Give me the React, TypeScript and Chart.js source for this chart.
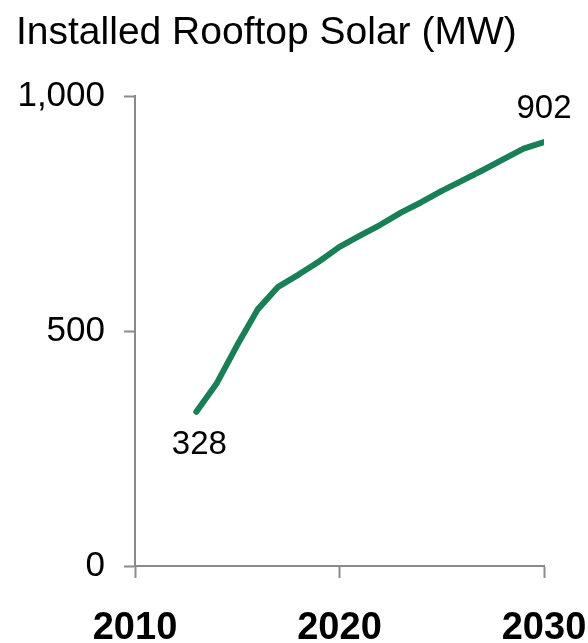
import React, { useEffect, useRef } from 'react';
import { Chart, registerables } from 'chart.js';

Chart.register(...registerables);

const chartTitle = 'Installed Rooftop Solar (MW)';
const years = [2013, 2014, 2015, 2016, 2017, 2018, 2019, 2020, 2021, 2022, 2023, 2024, 2025, 2026, 2027, 2028, 2029, 2030];
const installedMW = [328, 389, 470, 546, 594, 620, 648, 679, 703, 726, 752, 774, 798, 820, 842, 865, 888, 902];
const xTickValues = [2010, 2020, 2030];
const yTickValues = [0, 500, 1000];

const FONT = '"Liberation Sans", Arial, Helvetica, sans-serif';
const LINE_COLOR = '#187f57';
const AXIS_COLOR = '#8a8a8a';

export default function App() {
  const canvasRef = useRef<HTMLCanvasElement | null>(null);

  useEffect(() => {
    document.body.style.margin = '0';
    const canvas = canvasRef.current;
    if (!canvas) return;

    const overlay = {
      id: 'overlay',
      afterDraw(chart: any) {
        const ctx = chart.ctx;
        ctx.save();
        ctx.fillStyle = '#000';
        ctx.font = `39px ${FONT}`;
        ctx.textAlign = 'left';
        ctx.textBaseline = 'alphabetic';
        ctx.fillText(chartTitle, 16, 44);

        const xs = chart.scales.x;
        const ys = chart.scales.y;
        ctx.font = `33px ${FONT}`;
        ctx.textAlign = 'center';
        ctx.textBaseline = 'middle';
        const first = 0;
        const last = installedMW.length - 1;
        ctx.fillText(String(installedMW[first]), xs.getPixelForValue(years[first]) + 3, ys.getPixelForValue(installedMW[first]) + 33);
        ctx.fillText(String(installedMW[last]), xs.getPixelForValue(years[last]), ys.getPixelForValue(installedMW[last]) - 33);
        ctx.restore();
      },
    };

    const chart = new Chart(canvas, {
      type: 'line',
      data: {
        datasets: [
          {
            data: years.map((y, i) => ({ x: y, y: installedMW[i] })),
            borderColor: LINE_COLOR,
            backgroundColor: LINE_COLOR,
            borderWidth: 6,
            borderCapStyle: 'round',
            borderJoinStyle: 'round',
            pointRadius: 0,
            tension: 0,
          },
        ],
      },
      options: {
        animation: false,
        responsive: true,
        maintainAspectRatio: false,
        layout: { padding: { top: 96, right: 44, left: 0, bottom: 0 } },
        plugins: {
          legend: { display: false },
          title: { display: false },
          tooltip: { enabled: false },
        },
        scales: {
          x: {
            type: 'linear',
            min: xTickValues[0],
            max: xTickValues[xTickValues.length - 1],
            afterBuildTicks: (scale: any) => {
              scale.ticks = xTickValues.map((v) => ({ value: v }));
            },
            afterFit: (scale: any) => {
              scale.height = 77;
              scale.paddingLeft = 0;
              scale.paddingRight = 0;
            },
            border: { display: true, color: AXIS_COLOR, width: 2 },
            grid: { drawOnChartArea: false, drawTicks: true, tickLength: 12, tickWidth: 2, tickColor: AXIS_COLOR },
            ticks: {
              color: '#000',
              font: { family: FONT, size: 38, weight: 'bold' },
              padding: 28,
              maxRotation: 0,
              autoSkip: false,
              callback: (v: any) => String(v),
            },
          },
          y: {
            type: 'linear',
            min: yTickValues[0],
            max: yTickValues[yTickValues.length - 1],
            afterBuildTicks: (scale: any) => {
              scale.ticks = yTickValues.map((v) => ({ value: v }));
            },
            afterFit: (scale: any) => {
              scale.width = 135;
            },
            border: { display: true, color: AXIS_COLOR, width: 2 },
            grid: { drawOnChartArea: false, drawTicks: true, tickLength: 11, tickWidth: 2, tickColor: AXIS_COLOR },
            ticks: {
              color: '#000',
              font: { family: FONT, size: 35 },
              padding: 19,
              autoSkip: false,
              callback: (v: any) => Number(v).toLocaleString('en-US'),
            },
          },
        },
      },
      plugins: [overlay],
    });

    return () => chart.destroy();
  }, []);

  return (
    <div style={{ position: 'relative', width: 588, height: 643 }}>
      <canvas ref={canvasRef} />
    </div>
  );
}
